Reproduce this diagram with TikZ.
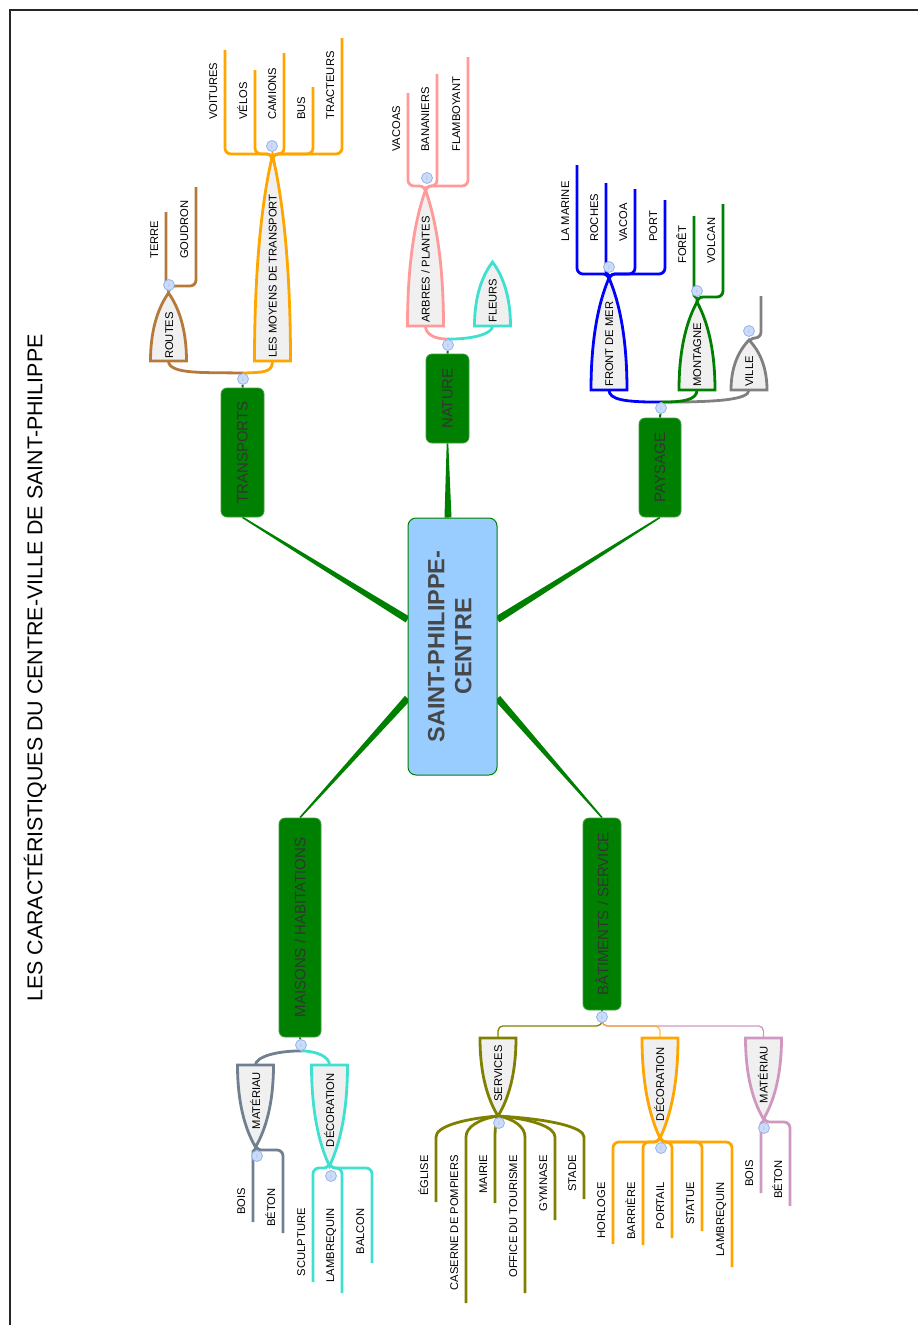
\documentclass[tikz,border=0pt]{standalone}
\usepackage{fontspec}
\setmainfont{Liberation Sans}
\usetikzlibrary{calc}
\pgfdeclarelayer{back}
\pgfsetlayers{back,main}

\definecolor{hubgreen}{RGB}{0,128,0}
\definecolor{hubtext}{RGB}{51,51,51}
\definecolor{centreblue}{RGB}{153,204,255}
\definecolor{archfill}{RGB}{240,240,240}
\definecolor{dotfill}{RGB}{204,219,247}
\definecolor{dotline}{RGB}{150,180,235}
\definecolor{routebrown}{RGB}{181,121,58}
\definecolor{carorange}{RGB}{255,165,0}
\definecolor{treesalmon}{RGB}{255,154,152}
\definecolor{flowerturq}{RGB}{64,224,208}
\definecolor{seablue}{RGB}{0,0,255}
\definecolor{towngrey}{RGB}{128,128,128}
\definecolor{slate}{RGB}{112,128,144}
\definecolor{servolive}{RGB}{128,128,0}
\definecolor{mauve}{RGB}{208,152,192}

% arch: name, base x, base y, half width, height (negative = points down), colour
\newcommand\arche[6]{%
  \coordinate (#1-b) at (#2,#3);
  \coordinate (#1-a) at (#2,{#3-(#5)});
  \filldraw[arch, draw=#6] ({#2-#4},#3) -- ({#2+#4},#3)
    .. controls ({#2+#4},{#3-0.55*(#5)}) and ({#2+0.4*#4},{#3-0.85*(#5)}) .. (#1-a)
    .. controls ({#2-0.4*#4},{#3-0.85*(#5)}) and ({#2-#4},{#3-0.55*(#5)}) .. cycle;
}
% leaves above a fork: parent, colour, fork x, fork y, label start, x/end/label
\newcommand\twigsup[6]{%
  \coordinate (#1-f) at (#3,#4);
  \foreach \x/\y/\lbl [count=\k] in {#6} {
    \pgfmathsetmacro\rad{min(6,abs(\x-#3)/2)}
    \coordinate (#1-\k) at (\x,\y);
    \draw[twig, #2, rounded corners=\rad pt] (#1-a) -- (#1-f) -| (#1-\k);
    \node[leaf, anchor=west] (#1-\k-t) at ({\x-12},#5) {\lbl};
  }
}
% same, hanging below
\newcommand\twigsdown[6]{%
  \coordinate (#1-f) at (#3,#4);
  \foreach \x/\y/\lbl [count=\k] in {#6} {
    \pgfmathsetmacro\rad{min(6,abs(\x-#3)/2)}
    \coordinate (#1-\k) at (\x,\y);
    \draw[twig, #2, rounded corners=\rad pt] (#1-a) -- (#1-f) -| (#1-\k);
    \node[leaf, anchor=east] (#1-\k-t) at ({\x-12},#5) {\lbl};
  }
}
% tapered link from a theme box to the centre
\newcommand\spoke[2]{%
  \fill[spoke] ($(#1)!0.8pt!90:(#2)$) -- ($(#1)!0.8pt!-90:(#2)$)
    -- ($(#2)!3.5pt!90:(#1)$) -- ($(#2)!3.5pt!-90:(#1)$) -- cycle;
}

\begin{document}
\begin{tikzpicture}[x=1pt, y=-1pt,
  every node/.style={font=\fontsize{11.2}{13}\selectfont},
  centre/.style={draw=hubgreen, line width=1pt, fill=centreblue, rounded corners=8pt, text=hubtext!90!white, font=\fontsize{23.5}{27}\selectfont\bfseries, inner sep=0pt},
  hub/.style={draw=hubgreen!75!white, line width=0.8pt, fill=hubgreen, rounded corners=6pt, text=hubtext, font=\fontsize{15}{17}\selectfont, inner sep=0pt},
  spoke/.style={fill=hubgreen},
  stub/.style={draw=hubgreen, line width=2pt},
  arch/.style={fill=archfill, line width=2.8pt},
  stem/.style={line width=2.8pt},
  twig/.style={line width=2.8pt, rounded corners=6pt},
  bar/.style={line width=1.3pt, rounded corners=5pt},
  leaf/.style={rotate=90, inner sep=0pt, text height=8pt, text depth=0pt},
  dot/.style={circle, draw=dotline, fill=dotfill, line width=0.8pt, minimum size=11pt, inner sep=0pt, text=dotline, font=\fontsize{6}{6}\selectfont}]

\useasboundingbox (0,0) rectangle (918,1325);
\draw[line width=1.5pt, black!85] (10,1325) -- (10,10) -- (918,10);
\node[rotate=90, font=\fontsize{21.4}{24}\selectfont] (title) at (35,668) {LES CARACTÉRISTIQUES DU CENTRE-VILLE DE SAINT-PHILIPPE};

% centre and themes
\node[centre, minimum width=89pt, minimum height=257pt] (centre) at (452.5,646.5)
  {\rotatebox{90}{\begin{tabular}{@{}c@{}}SAINT-PHILIPPE-\\CENTRE\end{tabular}}};
\node[hub, minimum width=43pt, minimum height=129pt] (trans) at (242.5,452.5) {\rotatebox{90}{TRANSPORTS}};
\node[hub, minimum width=43pt, minimum height=89pt] (nat) at (447.5,398.5) {\rotatebox{90}{NATURE}};
\node[hub, minimum width=42pt, minimum height=99pt] (pays) at (660,467.5) {\rotatebox{90}{PAYSAGE}};
\node[hub, minimum width=42pt, minimum height=219pt] (mais) at (300,927.5) {\rotatebox{90}{MAISONS / HABITATIONS}};
\node[hub, minimum width=38pt, minimum height=192pt] (bat) at (602,914) {\rotatebox{90}{BÂTIMENTS / SERVICE}};

% sub-themes
\arche{routes}{168.5}{361}{18}{68}{routebrown}
\arche{moyens}{272.5}{361}{18}{206}{carorange}
\arche{arbres}{425.5}{326}{18}{136}{treesalmon}
\arche{fleurs}{492.5}{326}{18}{64}{flowerturq}
\arche{front}{609}{390}{18}{112}{seablue}
\arche{montagne}{697}{390}{18}{88}{hubgreen}
\arche{ville}{749}{390}{18}{50}{towngrey}
\arche{mmat}{255.5}{1065}{18}{-82}{slate}
\arche{mdeco}{329.5}{1065}{18}{-101}{flowerturq}
\arche{serv}{498}{1038}{18}{-78}{servolive}
\arche{bdeco}{660}{1038}{18}{-100}{carorange}
\arche{bmat}{763.5}{1038}{18}{-81}{mauve}

\node[leaf, anchor=west] (routes-t) at (169,359) {ROUTES};
\node[leaf, anchor=west] (moyens-t) at (272.5,358) {LES MOYENS DE TRANSPORT};
\node[leaf, anchor=west] (arbres-t) at (425.5,323) {ARBRES / PLANTES};
\node[leaf, anchor=west] (fleurs-t) at (492.5,323) {FLEURS};
\node[leaf, anchor=west] (front-t) at (609,387) {FRONT DE MER};
\node[leaf, anchor=west] (montagne-t) at (697,387) {MONTAGNE};
\node[leaf, anchor=west] (ville-t) at (749,387) {VILLE};
\node[leaf, anchor=east] (mmat-t) at (256,1072) {MATÉRIAU};
\node[leaf, anchor=east] (mdeco-t) at (330,1073) {DÉCORATION};
\node[leaf, anchor=east] (serv-t) at (498,1045) {SERVICES};
\node[leaf, anchor=east] (bdeco-t) at (660,1047) {DÉCORATION};
\node[leaf, anchor=east] (bmat-t) at (763.5,1046) {MATÉRIAU};

% info dots
\foreach \n/\p in {tr/{243,379}, nat/{448,345}, pays/{661,408}, mais/{301,1045}, bat/{602,1017},
    routes/{169,285}, moyens/{272,146}, arbres/{427,178}, front/{609,267}, montagne/{697,291},
    ville/{749,331}, mmat/{257,1156}, mdeco/{331,1176}, serv/{499,1123}, bdeco/{661,1148}, bmat/{764,1128}}
  \node[dot] (\n-i) at (\p) {i};

\begin{pgfonlayer}{back}
  \spoke{trans.south}{centre.149}
  \spoke{nat.south}{centre.92}
  \spoke{pays.south}{centre.31}
  \spoke{mais.north}{centre.229}
  \spoke{bat.north}{centre.311}

  \draw[stub] (trans.north) -- (tr-i);
  \draw[stub] (nat.north) -- (nat-i);
  \draw[stub] (pays.north) -- (pays-i);
  \draw[stub] (mais.south) -- (mais-i);
  \draw[stub] (bat.south) -- (bat-i);

  % theme -> sub-theme
  \draw[stem, routebrown] (tr-i.north) .. controls +(-35,-1) and +(0,14) .. (routes-b);
  \draw[stem, carorange] (tr-i.north) .. controls +(20,-1) and +(0,12) .. (moyens-b);
  \draw[stem, treesalmon] (nat-i.north) .. controls +(-14,0) and +(0,8) .. (arbres-b);
  \draw[stem, flowerturq] (nat-i.north) .. controls +(25,0) and +(0,8) .. (fleurs-b);
  \draw[stem, towngrey] (pays-i.north) .. controls +(55,0) and +(0,10) .. (ville-b);
  \draw[stem, hubgreen] (pays-i.north) .. controls +(22,0) and +(0,10) .. (montagne-b);
  \draw[stem, seablue] (pays-i.north) .. controls +(-35,0) and +(0,10) .. (front-b);
  \draw[stem, slate] (mais-i.south) .. controls +(-25,0) and +(0,-8) .. (mmat-b);
  \draw[stem, flowerturq] (mais-i.south) .. controls +(16,0) and +(0,-8) .. (mdeco-b);
  \draw[bar, mauve] (bat-i.south) -- ++(0,3) -| (bmat-b);
  \draw[bar, carorange, opacity=.7] (bat-i.south) -- ++(0,3) -| (bdeco-b);
  \draw[bar, servolive] (bat-i.south) -- ++(0,3) -| (serv-b);

  % leaves
  \twigsup{routes}{routebrown}{169}{286}{259}{166/212/TERRE, 196/187/GOUDRON}
  \twigsup{moyens}{carorange}{272.5}{154}{120}{225/50/VOITURES, 255/70/VÉLOS, 284/53/CAMIONS, 313/87/BUS, 342/38/TRACTEURS}
  \twigsup{arbres}{treesalmon}{425.5}{186}{152}{408/93/VACOAS, 437/74/BANANIERS, 468/57/FLAMBOYANT}
  \twigsup{front}{seablue}{609}{274}{242}{577/165/LA MARINE, 606/183/ROCHES, 635/189/VACOA, 665/200/PORT}
  \twigsup{montagne}{hubgreen}{697}{297}{264}{694/216/FORÊT, 723/204/VOLCAN}
  \coordinate (ville-f) at (749,338);
  \coordinate (ville-1) at (761,296);
  \draw[twig, towngrey] (ville-a) -- (ville-f) -| (ville-1);
  \twigsdown{mmat}{slate}{255.5}{1150}{1188}{253/1222/BOIS, 283/1233/BÉTON}
  \twigsdown{mdeco}{flowerturq}{329.5}{1168}{1208}{313/1282/SCULPTURE, 342/1293/LAMBREQUIN, 372/1263/BALCON}
  \foreach \x/\y/\lbl [count=\k] in {436/1202/ÉGLISE, 466/1303/CASERNE DE POMPIERS, 495/1203/MAIRIE,
      525/1293/OFFICE DU TOURISME, 555/1220/GYMNASE, 584/1199/STADE} {
    \coordinate (serv-\k) at (\x,\y);
    \draw[twig, servolive] (serv-a) .. controls ({498+0.6*(\x-498)},1119) and (\x,1127) .. (\x,1143) -- (serv-\k);
    \node[leaf, anchor=east] (serv-\k-t) at ({\x-12},1155) {\lbl};
  }
  \twigsdown{bdeco}{carorange}{660}{1142}{1182}{613/1244/HORLOGE, 643/1245/BARRIÈRE, 672/1238/PORTAIL, 702/1231/STATUE, 732/1267/LAMBREQUIN}
  \twigsdown{bmat}{mauve}{763.5}{1122}{1160}{761/1193/BOIS, 790/1206/BÉTON}
\end{pgfonlayer}
\end{tikzpicture}
\end{document}
